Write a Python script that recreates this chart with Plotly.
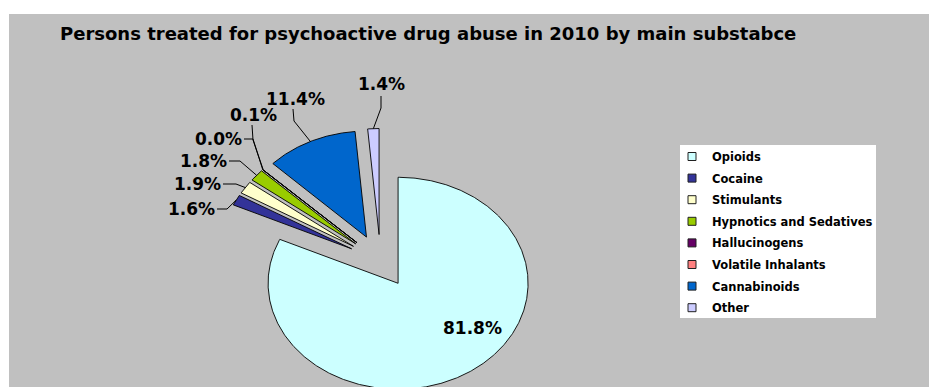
import math
import plotly.graph_objects as go

# ---- data -------------------------------------------------------------
substances = ["Opioids", "Cocaine", "Stimulants", "Hypnotics and Sedatives",
              "Hallucinogens", "Volatile Inhalants", "Cannabinoids", "Other"]
shares = [81.8, 1.6, 1.9, 1.8, 0.0, 0.1, 11.4, 1.4]          # percent of persons treated
colors = ["#CCFFFF", "#333399", "#FFFFCC", "#99CC00",
          "#660066", "#FF8080", "#0066CC", "#CCCCFF"]
title_text = "Persons treated for psychoactive drug abuse in 2010 by main substabce"

# ---- geometry (pixels of the 929x387 page) ---------------------------
W, H = 929, 387
ML, MT = 9, 14                 # white strip left / top of the grey chart area
CX, CY = 380.5, 261.0          # pie centre before the slices are pulled apart
RX, RY = 130.0, 106.0          # stretched pie radii
EXPLODE = 0.25                 # every slice pulled out by a quarter radius

# percentage label centres and the first two points of each leader line
label_px = [(472, 328), (191, 209), (197, 184), (203, 161),
            (218, 139), (253, 115), (295, 99), (381, 84)]
leader_px = [None,
             [(217, 209), (227, 209)],
             [(223, 184), (236, 184)],
             [(229, 161), (240, 161)],
             [(244, 139), (253, 139)],
             [(252, 125), (253, 140)],
             [(293, 109), (294, 121)],
             [(381, 96), (381, 108)]]

FONT = "DejaVu Sans"


def px2data(px, py):
    """Pixel position on the page -> pie axis units (radius 1 = RX / RY px)."""
    return (px - CX) / RX, (CY - py) / RY


x_range = [(ML - CX) / RX, (W - CX) / RX]
y_range = [(CY - H) / RY, (CY - MT) / RY]

fig = go.Figure()

# ---- pie slices (clockwise from 12 o'clock) ---------------------------
total = sum(shares)
start = 0.0
rim_mid = []
for name, val, col in zip(substances, shares, colors):
    sweep = 360.0 * val / total
    a0, a1 = start, start + sweep
    mid = math.radians((a0 + a1) / 2)
    ox, oy = EXPLODE * math.sin(mid), EXPLODE * math.cos(mid)
    steps = max(2, int(sweep * 2) + 1)
    xs, ys = [ox], [oy]
    for k in range(steps):
        a = math.radians(a0 + (a1 - a0) * k / (steps - 1))
        xs.append(ox + math.sin(a))
        ys.append(oy + math.cos(a))
    xs.append(ox)
    ys.append(oy)
    fig.add_trace(go.Scatter(
        x=xs, y=ys, mode="lines", fill="toself", fillcolor=col,
        line=dict(color="#000000", width=0.9), hoverinfo="skip",
        showlegend=False, legendgroup=name))
    rim_mid.append((ox + math.sin(mid), oy + math.cos(mid)))
    start = a1

# ---- leader lines ----------------------------------------------------
for pts, rim in zip(leader_px, rim_mid):
    if pts is None:
        continue
    lx = [px2data(*p)[0] for p in pts] + [rim[0]]
    ly = [px2data(*p)[1] for p in pts] + [rim[1]]
    fig.add_trace(go.Scatter(x=lx, y=ly, mode="lines",
                             line=dict(color="#000000", width=1),
                             hoverinfo="skip", showlegend=False))

# ---- legend entries (square swatches) --------------------------------
for name, col in zip(substances, colors):
    fig.add_trace(go.Scatter(
        x=[None], y=[None], mode="markers", name=name, legendgroup=name,
        marker=dict(symbol="square", size=8, color=col,
                    line=dict(color="#202020", width=1))))

# ---- percentage labels -----------------------------------------------
annotations = []
for (px, py), val in zip(label_px, shares):
    x, y = px2data(px, py)
    annotations.append(dict(
        x=x, y=y, xref="x", yref="y", text=f"{val:.1f}%", showarrow=False,
        xanchor="center", yanchor="middle",
        font=dict(family=FONT, size=17, color="#000000", weight="bold")))

# white legend panel
lx0, ly0 = px2data(680, 318)
lx1, ly1 = px2data(876, 145)
shapes = [dict(type="rect", xref="x", yref="y", x0=lx0, y0=ly0, x1=lx1, y1=ly1,
               fillcolor="#FFFFFF", line=dict(width=0), layer="below")]

fig.update_layout(
    width=W, height=H,
    margin=dict(l=ML, t=MT, r=0, b=0, pad=0),
    paper_bgcolor="#FFFFFF",
    plot_bgcolor="#C0C0C0",
    title=dict(text=title_text, x=60 / W, xanchor="left",
               y=1 - 34 / H, yanchor="middle", xref="container", yref="container",
               font=dict(family=FONT, size=18, color="#000000", weight="bold")),
    xaxis=dict(range=x_range, visible=False, fixedrange=True),
    yaxis=dict(range=y_range, visible=False, fixedrange=True),
    showlegend=True,
    legend=dict(x=(672 - ML) / (W - ML), y=1 - (142 - MT) / (H - MT),
                xanchor="left", yanchor="top",
                bgcolor="rgba(0,0,0,0)", borderwidth=0,
                tracegroupgap=2.6, traceorder="grouped",
                font=dict(family=FONT, size=11.5, color="#000000", weight="bold")),
    annotations=annotations,
    shapes=shapes,
)

fig.write_html("out.html")
